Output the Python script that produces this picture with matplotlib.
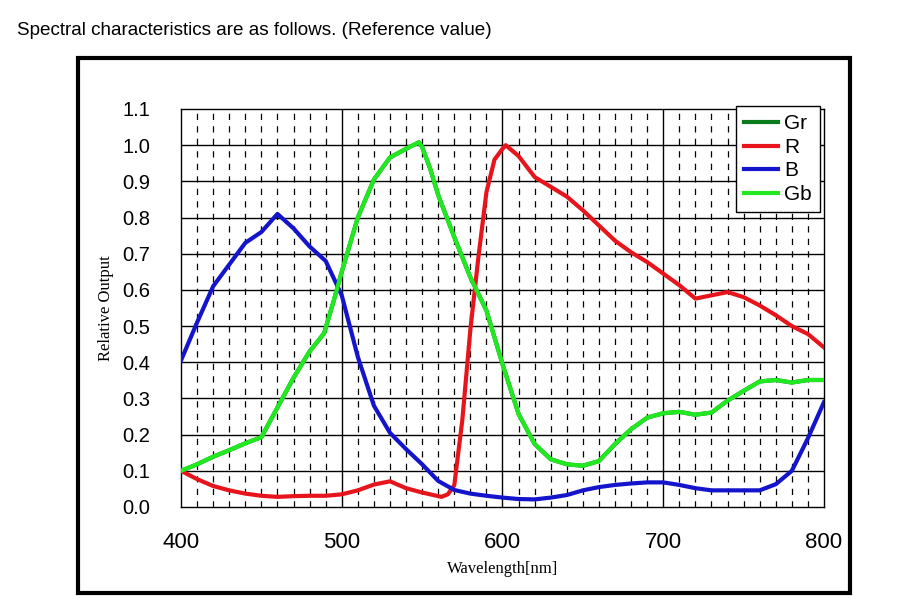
import matplotlib
matplotlib.use("Agg")
import matplotlib.pyplot as plt
from matplotlib.patches import Rectangle

# ---- data ----
wl_b = [400, 410, 420, 430, 440, 450, 460, 470, 480, 490, 500, 510, 520, 530, 540,
        550, 560, 570, 580, 590, 600, 610, 620, 630, 640, 650, 660, 670, 680, 690,
        700, 710, 720, 730, 740, 750, 760, 770, 780, 790, 800]
b_vals = [0.405, 0.51, 0.61, 0.67, 0.73, 0.76, 0.81, 0.77, 0.72, 0.68, 0.585, 0.415,
          0.28, 0.205, 0.16, 0.118, 0.072, 0.047, 0.037, 0.031, 0.026, 0.022, 0.021,
          0.026, 0.033, 0.046, 0.055, 0.061, 0.065, 0.068, 0.068, 0.061, 0.052, 0.046,
          0.046, 0.046, 0.046, 0.063, 0.10, 0.19, 0.29]

wl_r = [400, 410, 420, 430, 440, 450, 460, 470, 480, 490, 500, 510, 520, 530, 540,
        550, 562, 566, 570, 575, 580, 585, 590, 595, 600, 602, 610, 620, 630, 640,
        650, 660, 670, 680, 690, 700, 710, 720, 730, 740, 750, 760, 770, 780, 790, 800]
r_vals = [0.10, 0.077, 0.058, 0.046, 0.037, 0.031, 0.028, 0.030, 0.031, 0.031, 0.035,
          0.046, 0.062, 0.071, 0.052, 0.040, 0.028, 0.035, 0.06, 0.24, 0.49, 0.69,
          0.87, 0.96, 0.99, 1.0, 0.97, 0.912, 0.885, 0.858, 0.82, 0.778, 0.736, 0.704,
          0.677, 0.645, 0.613, 0.576, 0.585, 0.594, 0.58, 0.557, 0.53, 0.50, 0.478, 0.441]

wl_g = [400, 410, 420, 430, 440, 450, 460, 470, 480, 489, 495, 500, 510, 520, 530,
        540, 548, 550, 555, 560, 570, 580, 590, 600, 610, 620, 630, 640, 650, 660,
        670, 680, 690, 700, 710, 720, 730, 740, 750, 760, 770, 780, 790, 800]
gb_vals = [0.10, 0.118, 0.139, 0.157, 0.176, 0.193, 0.275, 0.357, 0.43, 0.48, 0.57,
           0.65, 0.80, 0.905, 0.966, 0.99, 1.008, 0.995, 0.935, 0.862, 0.746, 0.635,
           0.543, 0.395, 0.257, 0.174, 0.132, 0.118, 0.114, 0.127, 0.174, 0.215, 0.247,
           0.259, 0.263, 0.255, 0.261, 0.294, 0.321, 0.347, 0.351, 0.344, 0.351, 0.351]
gr_vals = list(gb_vals)  # Gr hidden beneath Gb in the reference

x_ticks = [400, 500, 600, 700, 800]
y_ticks = [0.0, 0.1, 0.2, 0.3, 0.4, 0.5, 0.6, 0.7, 0.8, 0.9, 1.0, 1.1]
y_tick_labels = ["0.0", "0.1", "0.2", "0.3", "0.4", "0.5", "0.6", "0.7", "0.8", "0.9", "1.0", "1.1"]
minor_x = [v for v in range(410, 800, 10) if v % 100 != 0]

title = "Spectral characteristics are as follows. (Reference value)"

# ---- figure ----
fig = plt.figure(figsize=(9.04, 6.09), dpi=100)
fig.patch.set_facecolor("white")

fig.text(17 / 904, (609 - 35) / 609, title, fontsize=13.6,
         family="Liberation Sans", ha="left", va="baseline")

fig.patches.append(Rectangle((78 / 904, 16 / 609), 772 / 904, 535 / 609,
                             transform=fig.transFigure, fill=False,
                             edgecolor="black", linewidth=3.0))

ax = fig.add_axes([181 / 904, (609 - 507) / 609, 643 / 904, 398 / 609])
ax.set_xlim(400, 800)
ax.set_ylim(0, 1.1)

# grid
for v in minor_x:
    ax.axvline(v, color="black", lw=0.9, ls=(0, (5, 5)), zorder=1)
for v in x_ticks[1:-1]:
    ax.axvline(v, color="black", lw=1.0, zorder=1)
for v in y_ticks[1:-1]:
    ax.axhline(v, color="black", lw=1.0, zorder=1)

lw = 3.0
ax.plot(wl_g, gr_vals, color="#0a7a1a", lw=lw, label="Gr", zorder=3)
ax.plot(wl_r, r_vals, color="#e8141c", lw=lw, label="R", zorder=3)
ax.plot(wl_b, b_vals, color="#1414cc", lw=lw, label="B", zorder=3)
ax.plot(wl_g, gb_vals, color="#22e822", lw=lw, label="Gb", zorder=4)

ax.set_xticks(x_ticks)
ax.set_xticklabels([str(v) for v in x_ticks], family="Liberation Sans", fontsize=16)
ax.set_yticks(y_ticks)
ax.set_yticklabels(y_tick_labels, family="Liberation Sans", fontsize=14.5)
ax.tick_params(axis="x", length=0, pad=18)
ax.tick_params(axis="y", length=0, pad=22)

for s in ax.spines.values():
    s.set_linewidth(1.0)
    s.set_color("black")

ax.set_xlabel("Wavelength[nm]", family="Liberation Serif", fontsize=12, labelpad=6)
ax.set_ylabel("Relative Output", family="Liberation Serif", fontsize=12, labelpad=6)

leg = ax.legend(loc="upper right", bbox_to_anchor=(820 / 904, (609 - 106) / 609),
                bbox_transform=fig.transFigure, fancybox=False, framealpha=1,
                edgecolor="black", handlelength=1.6, borderaxespad=0,
                handletextpad=0.3, labelspacing=0.22, borderpad=0.4,
                prop={"family": "Liberation Sans", "size": 15})
leg.get_frame().set_linewidth(1.0)
leg.set_zorder(10)

fig.savefig("out.png", dpi=100)
